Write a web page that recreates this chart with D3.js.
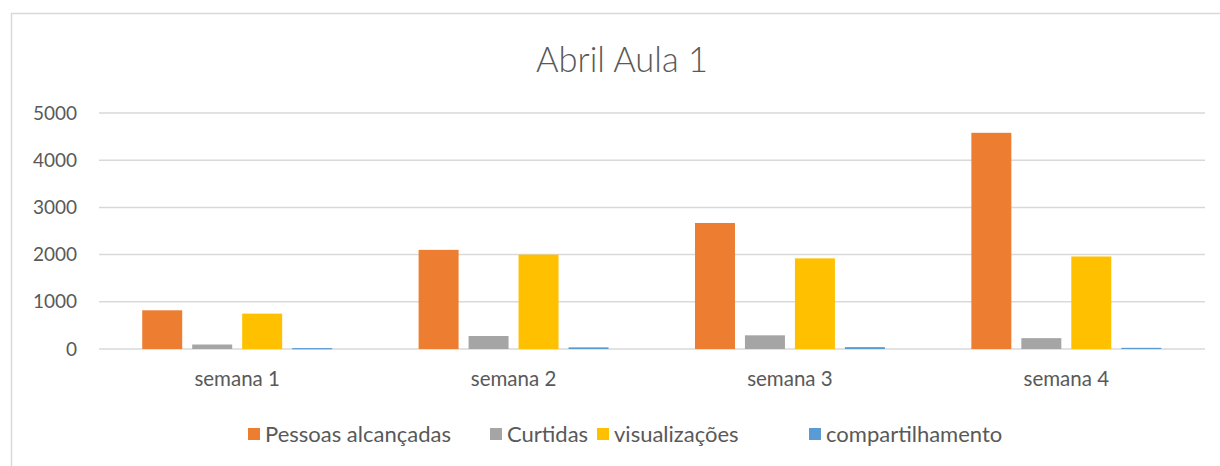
<!DOCTYPE html>
<html>
<head>
<meta charset="utf-8">
<script src="https://cdn.jsdelivr.net/npm/d3@7"></script>
<style>
  html, body { margin: 0; padding: 0; background: #fff; }
  svg { display: block; }
  text { font-family: Lato, "Open Sans", sans-serif; fill: #595959; }
</style>
</head>
<body>
<svg id="chart" width="1220" height="466"></svg>
<script>
const title = "Abril Aula 1";
const categories = ["semana 1", "semana 2", "semana 3", "semana 4"];
const seriesNames = ["Pessoas alcançadas", "Curtidas", "visualizações", "compartilhamento"];
const pessoasAlcancadas = [820, 2100, 2670, 4580];
const curtidas = [95, 275, 290, 230];
const visualizacoes = [750, 2000, 1920, 1960];
const compartilhamento = [20, 35, 40, 25];
const yTicks = [0, 1000, 2000, 3000, 4000, 5000];
const colors = ["#ED7D31", "#A5A5A5", "#FFC000", "#5B9BD5"];

const seriesValues = [pessoasAlcancadas, curtidas, visualizacoes, compartilhamento];

const svg = d3.select("#chart");
const W = 1220, H = 466;
const margin = { left: 99, right: 15, top: 113, bottom: 117 };

// outer chart border
svg.append("rect")
  .attr("x", 11.5).attr("y", 13.5)
  .attr("width", W).attr("height", H)
  .attr("fill", "none").attr("stroke", "#D9D9D9").attr("stroke-width", 1.5);

const x0 = d3.scaleBand().domain(categories).range([margin.left, W - margin.right - 0.5]).padding(0);
const x1 = d3.scaleBand().domain(seriesNames).range([0, x0.bandwidth()]).paddingInner(0.2).paddingOuter(0.865);
const y = d3.scaleLinear().domain([0, 5000]).range([H - margin.bottom, margin.top]);

// gridlines
svg.append("g").selectAll("line").data(yTicks).join("line")
  .attr("x1", margin.left).attr("x2", W - margin.right)
  .attr("y1", d => y(d)).attr("y2", d => y(d))
  .attr("stroke", "#D9D9D9").attr("stroke-width", 1.5);

// y axis labels
const yAxis = d3.axisLeft(y).tickValues(yTicks).tickSize(0).tickPadding(22).tickFormat(d3.format("d"));
const gy = svg.append("g").attr("transform", `translate(${margin.left},0)`).call(yAxis);
gy.select(".domain").remove();
gy.selectAll("text").style("font-size", "19px").attr("fill", "#595959").style("font-family", "Lato, sans-serif");

// x axis labels
const xAxis = d3.axisBottom(x0).tickSize(0).tickPadding(22);
const gx = svg.append("g").attr("transform", `translate(0,${y(0)})`).call(xAxis);
gx.select(".domain").remove();
gx.selectAll("text").style("font-size", "20.5px").attr("fill", "#595959").style("font-family", "Lato, sans-serif");

// bars
const rows = categories.map((c, i) => ({ cat: c, vals: seriesNames.map((s, j) => ({ s, j, v: seriesValues[j][i] })) }));
const groups = svg.append("g").selectAll("g").data(rows).join("g")
  .attr("transform", d => `translate(${x0(d.cat)},0)`);
groups.selectAll("rect").data(d => d.vals).join("rect")
  .attr("x", d => x1(d.s))
  .attr("width", x1.bandwidth())
  .attr("y", d => y(d.v))
  .attr("height", d => Math.max(1.2, y(0) - y(d.v)))
  .attr("fill", d => colors[d.j]);

// title
svg.append("text")
  .attr("x", 622).attr("y", 72)
  .attr("text-anchor", "middle")
  .style("font-size", "34.5px").style("font-weight", 300)
  .text(title);

// legend
const legendX = [248, 490, 597, 809];
const lg = svg.append("g").selectAll("g").data(seriesNames).join("g")
  .attr("transform", (d, i) => `translate(${legendX[i]},434)`);
lg.append("rect").attr("x", 0).attr("y", -6).attr("width", 12).attr("height", 12)
  .attr("fill", (d, i) => colors[i]);
lg.append("text").attr("x", 17).attr("y", 0).attr("dy", "0.35em")
  .style("font-size", "22px").text(d => d);
</script>
</body>
</html>
